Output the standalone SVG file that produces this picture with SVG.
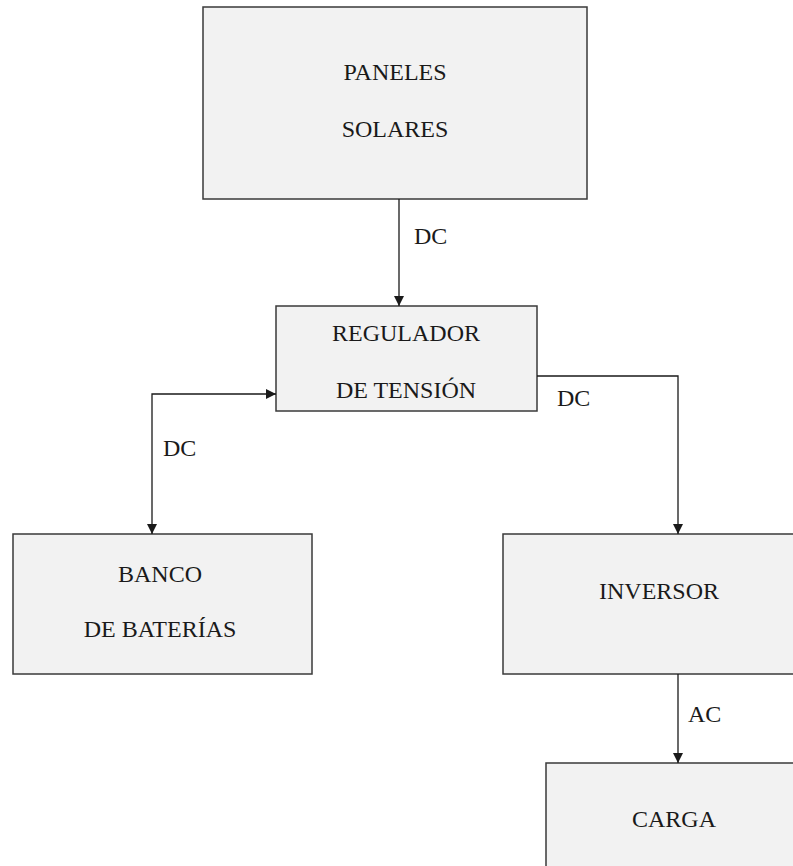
<svg xmlns="http://www.w3.org/2000/svg" width="793" height="866" viewBox="0 0 793 866">
<defs>
<style>
.box{fill:#f2f2f2;stroke:#3a3a3a;stroke-width:1.5}
.t{font-family:'Liberation Serif','DejaVu Serif',serif;font-size:24px;fill:#1a1a1a;text-anchor:middle}
.l{font-family:'Liberation Serif','DejaVu Serif',serif;font-size:24px;fill:#1a1a1a}
.c{fill:none;stroke:#1a1a1a;stroke-width:1.3}
</style>
<marker id="ah" viewBox="0 0 10 10" refX="10" refY="5" markerWidth="10" markerHeight="10" markerUnits="userSpaceOnUse" orient="auto-start-reverse">
<path d="M0,0 L10,5 L0,10 Z" fill="#1a1a1a"/>
</marker>
</defs>
<rect width="793" height="866" fill="#ffffff"/>
<g id="paneles">
<rect class="box" x="203" y="7" width="384" height="192"/>
<text class="t" x="395" y="80">PANELES</text>
<text class="t" x="395" y="137">SOLARES</text>
</g>
<g id="regulador">
<rect class="box" x="276" y="306" width="261" height="105"/>
<text class="t" x="406" y="341">REGULADOR</text>
<text class="t" x="406" y="398">DE TENSIÓN</text>
</g>
<g id="banco">
<rect class="box" x="13" y="534" width="299" height="140"/>
<text class="t" x="160" y="582">BANCO</text>
<text class="t" x="160" y="637">DE BATERÍAS</text>
</g>
<g id="inversor">
<rect class="box" x="503" y="534" width="300" height="140"/>
<text class="t" x="659" y="599">INVERSOR</text>
</g>
<g id="carga">
<rect class="box" x="546" y="763" width="260" height="120"/>
<text class="t" x="674" y="827">CARGA</text>
</g>
<g id="connectors">
<line class="c" x1="399" y1="199" x2="399" y2="306" marker-end="url(#ah)"/>
<polyline class="c" points="152,534 152,394 276,394" marker-start="url(#ah)" marker-end="url(#ah)"/>
<polyline class="c" points="537,376 678,376 678,534" marker-end="url(#ah)"/>
<line class="c" x1="678" y1="674" x2="678" y2="763" marker-end="url(#ah)"/>
<text class="l" x="414" y="244">DC</text>
<text class="l" x="163" y="456">DC</text>
<text class="l" x="557" y="406">DC</text>
<text class="l" x="688" y="722">AC</text>
</g>
</svg>
